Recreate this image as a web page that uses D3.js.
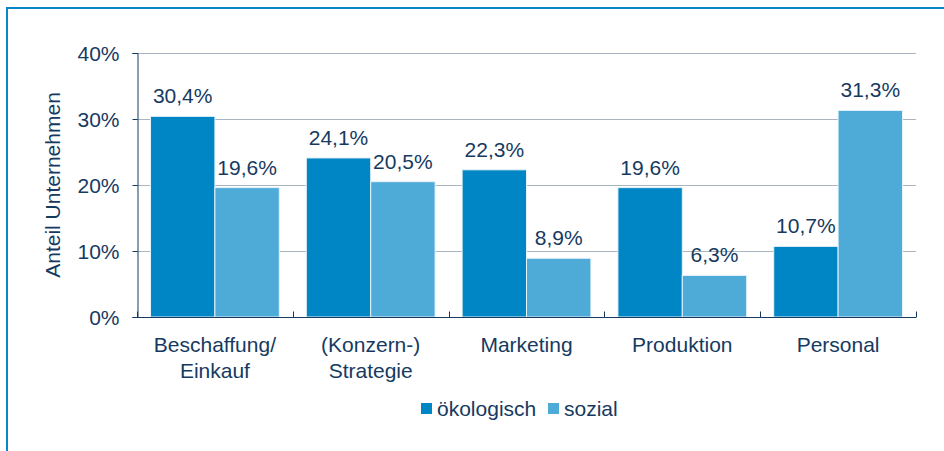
<!DOCTYPE html>
<html>
<head>
<meta charset="utf-8">
<script src="https://cdnjs.cloudflare.com/ajax/libs/d3/7.8.5/d3.min.js"></script>
<style>
  html, body { margin: 0; padding: 0; background: #fff; }
  svg { display: block; font-family: "Liberation Sans", Arial, sans-serif; }
</style>
</head>
<body>
<svg id="chart" width="944" height="451"></svg>
<script>
// data
var categories = [["Beschaffung/", "Einkauf"], ["(Konzern-)", "Strategie"], ["Marketing"], ["Produktion"], ["Personal"]];
var oekologisch = [30.4, 24.1, 22.3, 19.6, 10.7];
var sozial = [19.6, 20.5, 8.9, 6.3, 31.3];
var seriesNames = ["ökologisch", "sozial"];
var yTicks = [0, 10, 20, 30, 40];

var colors = ["#0086c5", "#4eaad6"];
var textColor = "#163a5f";
var fontSize = "21px";

var svg = d3.select("#chart");

// outer frame (only left + top visible in the picture)
svg.append("rect")
    .attr("x", 7).attr("y", 8)
    .attr("width", 960).attr("height", 470)
    .attr("fill", "none")
    .attr("stroke", "#0a86c8")
    .attr("stroke-width", 2);

var plotLeft = 137, plotRight = 916, plotTop = 53, plotBottom = 317;

var x = d3.scaleBand()
    .domain(d3.range(categories.length))
    .range([plotLeft, plotRight]);

var y = d3.scaleLinear()
    .domain([0, 40])
    .range([plotBottom, plotTop]);

// gridlines
svg.append("g").selectAll("line")
    .data(yTicks.filter(function(d){ return d > 0; }))
    .enter().append("line")
        .attr("x1", plotLeft).attr("x2", plotRight)
        .attr("y1", function(d){ return Math.round(y(d)) + 0.5; })
        .attr("y2", function(d){ return Math.round(y(d)) + 0.5; })
        .attr("stroke", "#a9b6c2")
        .attr("stroke-width", 1);

// y axis
var yAxis = svg.append("g")
    .attr("transform", "translate(" + (plotLeft + 0.5) + ",0)")
    .call(d3.axisLeft(y).tickValues(yTicks).tickSize(5).tickPadding(13)
        .tickFormat(function(d){ return d + "%"; }));
yAxis.select(".domain").attr("stroke", textColor);
yAxis.selectAll(".tick line").attr("stroke", textColor);
yAxis.selectAll("text")
    .attr("fill", textColor)
    .style("font-size", fontSize)
    .style("font-family", "Liberation Sans, Arial, sans-serif")
    .attr("dy", "0.36em");

svg.append("text")
    .attr("transform", "translate(60," + ((plotTop + plotBottom) / 2) + ") rotate(-90)")
    .attr("text-anchor", "middle")
    .attr("fill", textColor)
    .style("font-size", fontSize)
    .text("Anteil Unternehmen");

// bars
var inner = d3.scaleBand()
    .domain([0, 1])
    .range([0, x.bandwidth()])
    .paddingOuter(0.21)
    .paddingInner(0);

var rows = categories.map(function(c, i){ return [oekologisch[i], sozial[i]]; });

var groups = svg.append("g").selectAll("g")
    .data(rows)
    .enter().append("g")
        .attr("transform", function(d, i){ return "translate(" + x(i) + ",0)"; });

groups.selectAll("rect")
    .data(function(d){ return d; })
    .enter().append("rect")
        .attr("x", function(d, j){ return inner(j); })
        .attr("y", function(d){ return y(d); })
        .attr("width", inner.bandwidth())
        .attr("height", function(d){ return plotBottom - y(d); })
        .attr("fill", function(d, j){ return colors[j]; })
        .attr("stroke", "#e6f2f9")
        .attr("stroke-width", 1);

groups.selectAll("text")
    .data(function(d){ return d; })
    .enter().append("text")
        .attr("x", function(d, j){ return inner(j) + inner.bandwidth() / 2; })
        .attr("y", function(d){ return y(d) - 13; })
        .attr("text-anchor", "middle")
        .attr("fill", textColor)
        .style("font-size", fontSize)
        .text(function(d){ return d.toFixed(1).replace(".", ",") + "%"; });

// x axis
var xAxis = svg.append("g")
    .attr("transform", "translate(0," + (plotBottom + 0.5) + ")");
xAxis.append("line")
    .attr("x1", plotLeft).attr("x2", plotRight)
    .attr("stroke", textColor);
xAxis.selectAll(".tk")
    .data(d3.range(categories.length + 1))
    .enter().append("line")
        .attr("class", "tk")
        .attr("x1", function(i){ return Math.round(plotLeft + i * x.step()) + 0.5; })
        .attr("x2", function(i){ return Math.round(plotLeft + i * x.step()) + 0.5; })
        .attr("y1", 0).attr("y2", -6)
        .attr("stroke", textColor);

svg.append("g").selectAll("text")
    .data(categories)
    .enter().append("text")
        .attr("x", function(d, i){ return x(i) + x.bandwidth() / 2; })
        .attr("y", 352)
        .attr("text-anchor", "middle")
        .attr("fill", textColor)
        .style("font-size", fontSize)
        .each(function(d){
            var t = d3.select(this);
            d.forEach(function(line, k){
                t.append("tspan")
                    .attr("x", t.attr("x"))
                    .attr("dy", k === 0 ? 0 : 26)
                    .text(line);
            });
        });

// legend
var legendPos = [421, 548];
var legend = svg.append("g").selectAll("g")
    .data(seriesNames)
    .enter().append("g")
        .attr("transform", function(d, i){ return "translate(" + legendPos[i] + ",403)"; });
legend.append("rect")
    .attr("width", 11).attr("height", 11)
    .attr("fill", function(d, i){ return colors[i]; });
legend.append("text")
    .attr("x", 16).attr("y", 12.5)
    .attr("fill", textColor)
    .style("font-size", fontSize)
    .text(function(d){ return d; });
</script>
</body>
</html>
